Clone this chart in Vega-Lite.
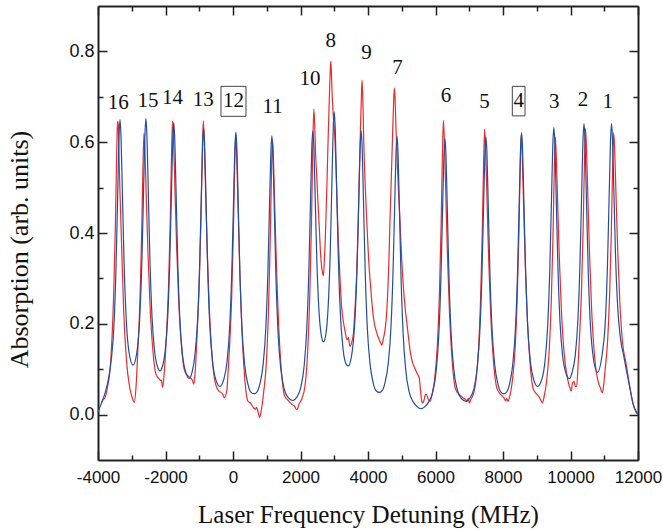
{
"$schema": "https://vega.github.io/schema/vega-lite/v6.json",
"width": 540, "height": 454,
"autosize": "none",
"padding": {"left": 98, "top": 6, "right": 25, "bottom": 71},
"background": "white",
"config": {"view": {"stroke": null}},
"datasets": {
"blue": [
{"x":-4000,"y":0.005},{"x":-3900,"y":0.025},{"x":-3800,"y":0.045},{"x":-3700,"y":0.075},{"x":-3608,"y":0.12},{"x":-3528,"y":0.195},{"x":-3468,"y":0.32},{"x":-3418,"y":0.48},{"x":-3378,"y":0.61},{"x":-3348,"y":0.65},
{"x":-3318,"y":0.612},{"x":-3278,"y":0.49},{"x":-3228,"y":0.336},{"x":-3168,"y":0.217},{"x":-3088,"y":0.141},{"x":-2962,"y":0.109},
{"x":-2840,"y":0.142},{"x":-2760,"y":0.218},{"x":-2700,"y":0.337},{"x":-2650,"y":0.492},{"x":-2610,"y":0.614},{"x":-2580,"y":0.652},
{"x":-2550,"y":0.614},{"x":-2510,"y":0.492},{"x":-2460,"y":0.337},{"x":-2400,"y":0.216},{"x":-2320,"y":0.138},{"x":-2220,"y":0.102},{"x":-2165,"y":0.096},
{"x":-2115,"y":0.101},{"x":-2015,"y":0.137},{"x":-1935,"y":0.214},{"x":-1875,"y":0.333},{"x":-1825,"y":0.485},{"x":-1785,"y":0.606},{"x":-1755,"y":0.643},
{"x":-1725,"y":0.606},{"x":-1685,"y":0.485},{"x":-1635,"y":0.331},{"x":-1575,"y":0.21},{"x":-1495,"y":0.131},{"x":-1395,"y":0.092},{"x":-1295,"y":0.08},
{"x":-1210,"y":0.094},{"x":-1130,"y":0.13},{"x":-1050,"y":0.207},{"x":-990,"y":0.326},{"x":-940,"y":0.477},{"x":-900,"y":0.595},{"x":-870,"y":0.631},
{"x":-840,"y":0.595},{"x":-800,"y":0.474},{"x":-750,"y":0.32},{"x":-690,"y":0.2},{"x":-610,"y":0.119},{"x":-510,"y":0.077},{"x":-388,"y":0.062},
{"x":-275,"y":0.077},{"x":-175,"y":0.118},{"x":-95,"y":0.198},{"x":-35,"y":0.316},{"x":15,"y":0.467},{"x":55,"y":0.586},{"x":85,"y":0.622},
{"x":115,"y":0.586},{"x":155,"y":0.465},{"x":205,"y":0.312},{"x":265,"y":0.192},{"x":345,"y":0.111},{"x":445,"y":0.066},{"x":535,"y":0.049},{"x":621,"y":0.046},
{"x":702,"y":0.049},{"x":792,"y":0.066},{"x":892,"y":0.11},{"x":972,"y":0.19},{"x":1032,"y":0.308},{"x":1082,"y":0.46},{"x":1122,"y":0.578},{"x":1152,"y":0.614},
{"x":1182,"y":0.578},{"x":1222,"y":0.458},{"x":1272,"y":0.305},{"x":1332,"y":0.185},{"x":1412,"y":0.104},{"x":1512,"y":0.058},{"x":1632,"y":0.038},{"x":1775,"y":0.031},
{"x":1885,"y":0.038},{"x":2005,"y":0.059},{"x":2105,"y":0.105},{"x":2185,"y":0.188},{"x":2245,"y":0.31},{"x":2295,"y":0.466},{"x":2335,"y":0.588},{"x":2365,"y":0.625},
{"x":2395,"y":0.592},{"x":2435,"y":0.48},{"x":2485,"y":0.338},{"x":2545,"y":0.232},{"x":2615,"y":0.175},{"x":2680,"y":0.16},
{"x":2750,"y":0.176},{"x":2820,"y":0.238},{"x":2880,"y":0.354},{"x":2930,"y":0.509},{"x":2970,"y":0.632},{"x":3000,"y":0.667},
{"x":3030,"y":0.628},{"x":3070,"y":0.504},{"x":3120,"y":0.347},{"x":3180,"y":0.224},{"x":3260,"y":0.145},{"x":3360,"y":0.11},{"x":3415,"y":0.107},
{"x":3537,"y":0.142},{"x":3617,"y":0.215},{"x":3677,"y":0.327},{"x":3727,"y":0.475},{"x":3767,"y":0.588},{"x":3797,"y":0.625},
{"x":3827,"y":0.589},{"x":3867,"y":0.468},{"x":3917,"y":0.315},{"x":3977,"y":0.195},{"x":4057,"y":0.114},{"x":4157,"y":0.069},{"x":4247,"y":0.052},{"x":4336,"y":0.049},
{"x":4410,"y":0.052},{"x":4500,"y":0.069},{"x":4600,"y":0.113},{"x":4680,"y":0.192},{"x":4740,"y":0.31},{"x":4790,"y":0.46},{"x":4830,"y":0.577},{"x":4860,"y":0.613},
{"x":4890,"y":0.576},{"x":4930,"y":0.455},{"x":4980,"y":0.301},{"x":5040,"y":0.18},{"x":5120,"y":0.097},{"x":5220,"y":0.05},{"x":5340,"y":0.028},{"x":5460,"y":0.017},{"x":5573,"y":0.013},
{"x":5680,"y":0.017},{"x":5800,"y":0.028},{"x":5920,"y":0.05},{"x":6020,"y":0.096},{"x":6100,"y":0.178},{"x":6160,"y":0.299},{"x":6210,"y":0.452},{"x":6250,"y":0.572},{"x":6280,"y":0.608},
{"x":6310,"y":0.572},{"x":6350,"y":0.453},{"x":6400,"y":0.301},{"x":6460,"y":0.182},{"x":6540,"y":0.101},{"x":6640,"y":0.056},{"x":6760,"y":0.036},{"x":6915,"y":0.029},
{"x":7014,"y":0.036},{"x":7134,"y":0.056},{"x":7234,"y":0.102},{"x":7314,"y":0.183},{"x":7374,"y":0.303},{"x":7424,"y":0.456},{"x":7464,"y":0.576},{"x":7494,"y":0.612},
{"x":7524,"y":0.576},{"x":7564,"y":0.458},{"x":7614,"y":0.307},{"x":7674,"y":0.19},{"x":7754,"y":0.11},{"x":7854,"y":0.066},{"x":7944,"y":0.049},{"x":8025,"y":0.046},
{"x":8100,"y":0.049},{"x":8190,"y":0.066},{"x":8290,"y":0.111},{"x":8370,"y":0.192},{"x":8430,"y":0.312},{"x":8480,"y":0.465},{"x":8520,"y":0.585},{"x":8550,"y":0.621},
{"x":8580,"y":0.585},{"x":8620,"y":0.467},{"x":8670,"y":0.316},{"x":8730,"y":0.197},{"x":8810,"y":0.118},{"x":8910,"y":0.077},{"x":9024,"y":0.062},
{"x":9147,"y":0.077},{"x":9247,"y":0.119},{"x":9327,"y":0.2},{"x":9387,"y":0.321},{"x":9437,"y":0.475},{"x":9477,"y":0.596},{"x":9507,"y":0.632},
{"x":9537,"y":0.596},{"x":9577,"y":0.477},{"x":9627,"y":0.326},{"x":9687,"y":0.207},{"x":9767,"y":0.129},{"x":9867,"y":0.091},{"x":9968,"y":0.079},
{"x":10040,"y":0.091},{"x":10140,"y":0.13},{"x":10220,"y":0.209},{"x":10280,"y":0.33},{"x":10330,"y":0.484},{"x":10370,"y":0.605},{"x":10400,"y":0.641},
{"x":10430,"y":0.604},{"x":10470,"y":0.483},{"x":10520,"y":0.33},{"x":10580,"y":0.211},{"x":10660,"y":0.134},{"x":10795,"y":0.093},
{"x":10940,"y":0.134},{"x":11036,"y":0.211},{"x":11096,"y":0.33},{"x":11146,"y":0.483},{"x":11186,"y":0.604},{"x":11216,"y":0.641},
{"x":11246,"y":0.605},{"x":11286,"y":0.49},{"x":11336,"y":0.345},{"x":11396,"y":0.24},{"x":11476,"y":0.17},{"x":11576,"y":0.13},{"x":11650,"y":0.1},{"x":11750,"y":0.062},{"x":11860,"y":0.022},{"x":11940,"y":0.006},{"x":12000,"y":0.0}
],
"red": [
{"x":-3890,"y":0.027},{"x":-3850,"y":0.033},{"x":-3800,"y":0.036},{"x":-3760,"y":0.045},{"x":-3700,"y":0.068},{"x":-3677,"y":0.077},{"x":-3597,"y":0.151},{"x":-3537,"y":0.262},{"x":-3487,"y":0.411},{"x":-3447,"y":0.572},{"x":-3430,"y":0.63},{"x":-3417,"y":0.646},{"x":-3400,"y":0.64},
{"x":-3387,"y":0.596},{"x":-3347,"y":0.485},{"x":-3297,"y":0.365},{"x":-3237,"y":0.225},{"x":-3157,"y":0.12},{"x":-3057,"y":0.058},{"x":-2980,"y":0.036},{"x":-2924,"y":0.027},
{"x":-2870,"y":0.065},{"x":-2817,"y":0.146},{"x":-2757,"y":0.252},{"x":-2707,"y":0.395},{"x":-2667,"y":0.549},{"x":-2637,"y":0.62},
{"x":-2607,"y":0.575},{"x":-2567,"y":0.474},{"x":-2517,"y":0.351},{"x":-2457,"y":0.239},{"x":-2377,"y":0.144},{"x":-2277,"y":0.088},{"x":-2180,"y":0.078},{"x":-2150,"y":0.075},{"x":-2120,"y":0.076},{"x":-2100,"y":0.065},{"x":-2084,"y":0.06},
{"x":-2030,"y":0.1},{"x":-1970,"y":0.177},{"x":-1910,"y":0.283},{"x":-1860,"y":0.424},{"x":-1820,"y":0.577},{"x":-1790,"y":0.647},
{"x":-1760,"y":0.601},{"x":-1720,"y":0.496},{"x":-1670,"y":0.369},{"x":-1610,"y":0.253},{"x":-1530,"y":0.154},{"x":-1430,"y":0.096},{"x":-1330,"y":0.085},{"x":-1250,"y":0.08},{"x":-1200,"y":0.075},{"x":-1160,"y":0.067},
{"x":-1120,"y":0.095},{"x":-1060,"y":0.183},{"x":-1000,"y":0.287},{"x":-950,"y":0.427},{"x":-910,"y":0.577},{"x":-880,"y":0.647},
{"x":-850,"y":0.598},{"x":-810,"y":0.488},{"x":-760,"y":0.354},{"x":-700,"y":0.232},{"x":-620,"y":0.129},{"x":-520,"y":0.068},{"x":-420,"y":0.052},{"x":-340,"y":0.048},{"x":-300,"y":0.044},{"x":-260,"y":0.037},
{"x":-186,"y":0.051},{"x":-140,"y":0.1},{"x":-100,"y":0.153},{"x":-40,"y":0.257},{"x":10,"y":0.397},{"x":50,"y":0.547},{"x":82,"y":0.617},
{"x":110,"y":0.567},{"x":150,"y":0.455},{"x":200,"y":0.318},{"x":260,"y":0.194},{"x":340,"y":0.088},{"x":440,"y":0.03},{"x":520,"y":0.025},{"x":600,"y":0.016},{"x":660,"y":0.012},{"x":700,"y":0.016},{"x":740,"y":0.006},{"x":790,"y":-0.006},{"x":830,"y":0.006},
{"x":870,"y":0.025},{"x":910,"y":0.05},{"x":990,"y":0.117},{"x":1050,"y":0.227},{"x":1100,"y":0.373},{"x":1140,"y":0.532},{"x":1170,"y":0.605},
{"x":1200,"y":0.558},{"x":1240,"y":0.451},{"x":1290,"y":0.32},{"x":1350,"y":0.201},{"x":1430,"y":0.1},{"x":1530,"y":0.041},{"x":1650,"y":0.03},{"x":1750,"y":0.022},{"x":1830,"y":0.018},{"x":1870,"y":0.012},{"x":1900,"y":0.011},
{"x":1950,"y":0.022},{"x":2040,"y":0.035},{"x":2135,"y":0.064},{"x":2215,"y":0.143},{"x":2275,"y":0.263},{"x":2325,"y":0.421},{"x":2365,"y":0.594},{"x":2395,"y":0.673},
{"x":2420,"y":0.64},{"x":2445,"y":0.58},{"x":2477,"y":0.531},{"x":2516,"y":0.47},{"x":2556,"y":0.413},{"x":2590,"y":0.36},{"x":2625,"y":0.325},{"x":2660,"y":0.31},{"x":2677,"y":0.306},
{"x":2700,"y":0.33},{"x":2740,"y":0.4},{"x":2780,"y":0.5},{"x":2820,"y":0.61},{"x":2855,"y":0.7},{"x":2880,"y":0.755},{"x":2895,"y":0.778},
{"x":2910,"y":0.765},{"x":2935,"y":0.71},{"x":2970,"y":0.66},{"x":3022,"y":0.605},{"x":3070,"y":0.5},{"x":3121,"y":0.383},{"x":3170,"y":0.3},{"x":3220,"y":0.236},{"x":3270,"y":0.205},{"x":3319,"y":0.184},{"x":3380,"y":0.165},{"x":3420,"y":0.17},{"x":3445,"y":0.158},{"x":3467,"y":0.15},
{"x":3520,"y":0.16},{"x":3565,"y":0.177},{"x":3620,"y":0.24},{"x":3664,"y":0.31},{"x":3710,"y":0.42},{"x":3743,"y":0.531},{"x":3780,"y":0.64},{"x":3805,"y":0.7},{"x":3823,"y":0.737},
{"x":3845,"y":0.7},{"x":3875,"y":0.6},{"x":3920,"y":0.5},{"x":3961,"y":0.428},{"x":4020,"y":0.34},{"x":4079,"y":0.28},{"x":4130,"y":0.235},{"x":4178,"y":0.205},{"x":4240,"y":0.185},{"x":4306,"y":0.17},{"x":4360,"y":0.16},{"x":4405,"y":0.153},
{"x":4450,"y":0.165},{"x":4490,"y":0.18},{"x":4533,"y":0.205},{"x":4580,"y":0.26},{"x":4620,"y":0.34},{"x":4652,"y":0.428},{"x":4690,"y":0.52},{"x":4730,"y":0.62},{"x":4760,"y":0.69},{"x":4780,"y":0.719},
{"x":4800,"y":0.7},{"x":4830,"y":0.63},{"x":4870,"y":0.55},{"x":4910,"y":0.48},{"x":4948,"y":0.428},{"x":5000,"y":0.34},{"x":5050,"y":0.28},{"x":5100,"y":0.235},{"x":5146,"y":0.205},{"x":5200,"y":0.17},{"x":5250,"y":0.14},{"x":5300,"y":0.12},{"x":5342,"y":0.11},{"x":5400,"y":0.1},{"x":5460,"y":0.09},{"x":5520,"y":0.08},{"x":5560,"y":0.05},{"x":5590,"y":0.03},{"x":5618,"y":0.025},{"x":5660,"y":0.032},{"x":5700,"y":0.044},{"x":5733,"y":0.044},{"x":5780,"y":0.035},{"x":5837,"y":0.029},
{"x":5900,"y":0.045},{"x":5975,"y":0.079},{"x":6055,"y":0.153},{"x":6115,"y":0.264},{"x":6165,"y":0.413},{"x":6205,"y":0.574},{"x":6235,"y":0.648},
{"x":6265,"y":0.598},{"x":6305,"y":0.486},{"x":6355,"y":0.349},{"x":6415,"y":0.224},{"x":6495,"y":0.118},{"x":6595,"y":0.056},{"x":6700,"y":0.045},{"x":6800,"y":0.038},{"x":6880,"y":0.034},{"x":6940,"y":0.03},{"x":6970,"y":0.036},{"x":7005,"y":0.025},
{"x":7040,"y":0.032},{"x":7120,"y":0.045},{"x":7196,"y":0.073},{"x":7276,"y":0.146},{"x":7336,"y":0.255},{"x":7386,"y":0.4},{"x":7426,"y":0.557},{"x":7456,"y":0.629},
{"x":7486,"y":0.581},{"x":7526,"y":0.473},{"x":7576,"y":0.341},{"x":7636,"y":0.221},{"x":7716,"y":0.119},{"x":7816,"y":0.059},{"x":7920,"y":0.045},{"x":8020,"y":0.038},{"x":8080,"y":0.03},{"x":8110,"y":0.036},{"x":8150,"y":0.029},
{"x":8200,"y":0.04},{"x":8280,"y":0.076},{"x":8360,"y":0.147},{"x":8420,"y":0.252},{"x":8470,"y":0.394},{"x":8510,"y":0.546},{"x":8540,"y":0.617},
{"x":8570,"y":0.57},{"x":8610,"y":0.463},{"x":8660,"y":0.333},{"x":8720,"y":0.215},{"x":8800,"y":0.115},{"x":8900,"y":0.056},{"x":9000,"y":0.045},{"x":9080,"y":0.038},{"x":9130,"y":0.03},{"x":9170,"y":0.026},
{"x":9220,"y":0.04},{"x":9290,"y":0.073},{"x":9370,"y":0.143},{"x":9430,"y":0.248},{"x":9480,"y":0.389},{"x":9520,"y":0.541},{"x":9550,"y":0.611},
{"x":9580,"y":0.566},{"x":9620,"y":0.466},{"x":9670,"y":0.343},{"x":9730,"y":0.231},{"x":9810,"y":0.136},{"x":9910,"y":0.08},{"x":9970,"y":0.062},{"x":10020,"y":0.052},{"x":10060,"y":0.07},{"x":10104,"y":0.073},{"x":10140,"y":0.062},{"x":10183,"y":0.062},
{"x":10225,"y":0.11},{"x":10265,"y":0.168},{"x":10325,"y":0.272},{"x":10375,"y":0.41},{"x":10415,"y":0.561},{"x":10445,"y":0.63},
{"x":10475,"y":0.583},{"x":10515,"y":0.479},{"x":10565,"y":0.351},{"x":10625,"y":0.234},{"x":10705,"y":0.135},{"x":10805,"y":0.077},{"x":10880,"y":0.06},{"x":10945,"y":0.048},
{"x":10990,"y":0.07},{"x":11020,"y":0.094},{"x":11100,"y":0.163},{"x":11160,"y":0.266},{"x":11210,"y":0.403},{"x":11250,"y":0.552},{"x":11280,"y":0.621},
{"x":11310,"y":0.58},{"x":11350,"y":0.48},{"x":11400,"y":0.36},{"x":11460,"y":0.25},{"x":11540,"y":0.16},{"x":11640,"y":0.115},{"x":11750,"y":0.065},{"x":11861,"y":0.022},{"x":11940,"y":0.008},{"x":12000,"y":0.002}
],
"boxes": [
{"x1":-356,"x2":385,"y1":0.657,"y2":0.723},
{"x1":8276,"x2":8652,"y1":0.658,"y2":0.723}
],
"labels": [
{"t":"16","x":-3399,"y":0.686},{"t":"15","x":-2515,"y":0.691},{"t":"14","x":-1790,"y":0.697},{"t":"13","x":-885,"y":0.692},
{"t":"12","x":15,"y":0.69},{"t":"11","x":1173,"y":0.677},{"t":"10","x":2278,"y":0.739},{"t":"8","x":2897,"y":0.823},
{"t":"9","x":3956,"y":0.797},{"t":"7","x":4872,"y":0.764},{"t":"6","x":6308,"y":0.702},{"t":"5","x":7450,"y":0.688},
{"t":"4","x":8466,"y":0.69},{"t":"3","x":9521,"y":0.688},{"t":"2","x":10370,"y":0.692},{"t":"1","x":11105,"y":0.689}
]
},
"layer": [
{
"data": {"name": "red"},
"mark": {"type": "line", "color": "#ee2a2a", "strokeWidth": 1.2, "interpolate": "monotone"},
"encoding": {
"x": {"field": "x", "type": "quantitative", "scale": {"domain": [-4000, 12000], "nice": false, "zero": false},
 "axis": {"orient": "bottom", "values": [-4000,-3000,-2000,-1000,0,1000,2000,3000,4000,5000,6000,7000,8000,9000,10000,11000,12000],
  "labelExpr": "datum.value % 2000 == 0 ? '' + datum.value : ''",
  "tickSize": {"condition": {"test": "datum.value % 2000 == 0", "value": -9}, "value": -5},
  "tickColor": "#222", "tickWidth": 1.5, "domainColor": "#222", "domainWidth": 2, "grid": false,
  "labelFont": "Liberation Sans", "labelFontSize": 17, "labelColor": "#111", "labelPadding": 18, "labelFlush": false, "labelOverlap": false,
  "title": "Laser Frequency Detuning (MHz)", "titleFont": "Liberation Serif, Times New Roman, DejaVu Serif, serif", "titleFontSize": 25, "titleFontWeight": "normal", "titleColor": "#111",
  "titleBaseline": "alphabetic", "titleY": 62}},
"y": {"field": "y", "type": "quantitative", "scale": {"domain": [-0.1, 0.9], "nice": false, "zero": false},
 "axis": {"orient": "left", "values": [0,0.1,0.2,0.3,0.4,0.5,0.6,0.7,0.8],
  "labelExpr": "round(datum.value*10) % 2 == 0 ? format(datum.value, '.1f') : ''",
  "tickSize": {"condition": {"test": "round(datum.value*10) % 2 == 0", "value": -9}, "value": -5},
  "tickColor": "#222", "tickWidth": 1.5, "domainColor": "#222", "domainWidth": 2, "grid": false,
  "labelFont": "Liberation Sans", "labelFontSize": 18, "labelColor": "#111", "labelPadding": 13, "labelFlush": false, "labelOverlap": false,
  "title": "Absorption (arb. units)", "titleFont": "Liberation Serif, Times New Roman, DejaVu Serif, serif", "titleFontSize": 26, "titleFontWeight": "normal", "titleColor": "#111",
  "titleAngle": -90, "titleBaseline": "bottom", "titleAlign": "center", "titleX": -66, "titleY": 243}}
}
},
{
"data": {"name": "blue"},
"mark": {"type": "line", "color": "#1f4fa2", "strokeWidth": 1.2, "interpolate": "monotone"},
"encoding": {
"x": {"field": "x", "type": "quantitative", "scale": {"domain": [-4000, 12000], "nice": false, "zero": false}, "axis": null},
"y": {"field": "y", "type": "quantitative", "scale": {"domain": [-0.1, 0.9], "nice": false, "zero": false}, "axis": null}
}
},
{
"data": {"name": "boxes"},
"mark": {"type": "rect", "fillOpacity": 0, "stroke": "#444", "strokeWidth": 1},
"encoding": {
"x": {"field": "x1", "type": "quantitative", "scale": {"domain": [-4000, 12000], "nice": false, "zero": false},
 "axis": {"orient": "top", "values": [-4000,-3000,-2000,-1000,0,1000,2000,3000,4000,5000,6000,7000,8000,9000,10000,11000,12000],
  "labels": false, "title": null, "grid": false,
  "tickSize": {"condition": {"test": "datum.value % 2000 == 0", "value": -9}, "value": -5},
  "tickColor": "#222", "tickWidth": 1.5, "domainColor": "#222", "domainWidth": 2}},
"x2": {"field": "x2"},
"y": {"field": "y1", "type": "quantitative", "scale": {"domain": [-0.1, 0.9], "nice": false, "zero": false},
 "axis": {"orient": "right", "values": [0,0.1,0.2,0.3,0.4,0.5,0.6,0.7,0.8],
  "labels": false, "title": null, "grid": false,
  "tickSize": {"condition": {"test": "round(datum.value*10) % 2 == 0", "value": -9}, "value": -5},
  "tickColor": "#222", "tickWidth": 1.5, "domainColor": "#222", "domainWidth": 2}},
"y2": {"field": "y2"}
}
},
{
"data": {"name": "labels"},
"mark": {"type": "text", "font": "Liberation Serif, Times New Roman, DejaVu Serif, serif", "fontSize": 21, "color": "#111", "align": "center", "baseline": "middle"},
"encoding": {
"x": {"field": "x", "type": "quantitative", "scale": {"domain": [-4000, 12000], "nice": false, "zero": false}, "axis": null},
"y": {"field": "y", "type": "quantitative", "scale": {"domain": [-0.1, 0.9], "nice": false, "zero": false}, "axis": null},
"text": {"field": "t", "type": "nominal"}
}
}
],
"resolve": {"axis": {"x": "independent", "y": "independent"}}
}
